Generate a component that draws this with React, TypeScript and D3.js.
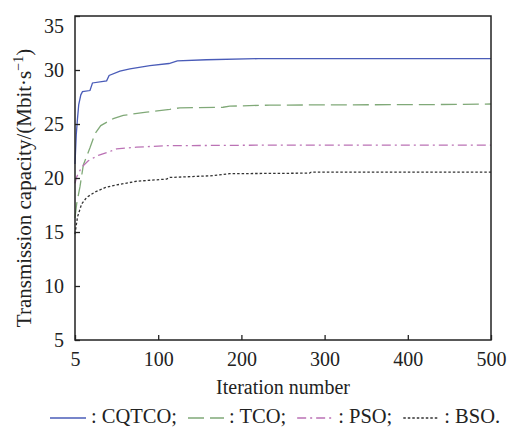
import React, { useRef, useEffect } from "react";
import * as d3 from "d3";

// iteration index (axis runs 0..500, first tick is labelled "5")
const cqtcoIter = [0, 1.5, 3, 4.5, 7, 9, 18, 21, 38, 41, 54, 66, 90, 113, 123, 158, 220, 500];
const cqtcoVal = [21.3, 24.0, 25.5, 26.8, 27.7, 28.0, 28.1, 28.8, 29.0, 29.5, 29.9, 30.1, 30.4, 30.6, 30.85, 30.95, 31.05, 31.05];

const tcoIter = [0, 2, 6, 10, 18, 24, 31, 46, 58, 86, 114, 126, 178, 186, 234, 430, 500];
const tcoVal = [16.3, 17.6, 19.2, 21.2, 22.8, 24.1, 24.85, 25.5, 25.8, 26.1, 26.35, 26.5, 26.55, 26.65, 26.75, 26.8, 26.85];

const psoIter = [0, 2, 8, 16, 28, 40, 50, 74, 110, 134, 246, 500];
const psoVal = [19.5, 20.1, 21.0, 21.6, 22.1, 22.4, 22.7, 22.85, 23.0, 23.0, 23.05, 23.05];

const bsoIter = [0, 3, 8, 14, 24, 36, 46, 74, 110, 114, 162, 186, 282, 284, 500];
const bsoVal = [14.8, 16.4, 17.6, 18.2, 18.7, 19.1, 19.3, 19.7, 19.9, 20.05, 20.2, 20.4, 20.45, 20.55, 20.55];

const seriesNames = ["CQTCO", "TCO", "PSO", "BSO"];
const xTicks = [0, 100, 200, 300, 400, 500];
const xTickLabels = ["5", "100", "200", "300", "400", "500"];
const yTicks = [5, 10, 15, 20, 25, 30, 35];

const font = "Liberation Serif, Tinos, DejaVu Serif, serif";

const styles = [
  { color: "#4a5cb8", dash: null },
  { color: "#80a978", dash: "16,6" },
  { color: "#bb72b5", dash: "9,4,2,4" },
  { color: "#333333", dash: "2.5,2" }
];

export default function App() {
  const ref = useRef<SVGSVGElement>(null);

  useEffect(() => {
    document.body.style.margin = "0";
    const width = 522, height = 430;
    const margin = { top: 16, right: 31, bottom: 90, left: 75 };

    const svg = d3.select(ref.current);
    svg.selectAll("*").remove();
    svg.attr("width", width).attr("height", height).attr("font-family", font);

    const x = d3.scaleLinear().domain([0, 500]).range([margin.left, width - margin.right]);
    const y = d3.scaleLinear().domain([5, 35]).range([height - margin.bottom, margin.top]);

    const series = [
      cqtcoIter.map((it, i) => [it, cqtcoVal[i]]),
      tcoIter.map((it, i) => [it, tcoVal[i]]),
      psoIter.map((it, i) => [it, psoVal[i]]),
      bsoIter.map((it, i) => [it, bsoVal[i]])
    ];

    const line = d3.line<number[]>().x(d => x(d[0])).y(d => y(d[1]));

    // curves
    series.forEach((s, i) => {
      svg.append("path")
        .datum(s)
        .attr("d", line)
        .attr("fill", "none")
        .attr("stroke", styles[i].color)
        .attr("stroke-width", 1.3)
        .attr("stroke-dasharray", styles[i].dash);
    });

    // frame
    svg.append("rect")
      .attr("x", x(0))
      .attr("y", y(35))
      .attr("width", x(500) - x(0))
      .attr("height", y(5) - y(35))
      .attr("fill", "none")
      .attr("stroke", "#222")
      .attr("stroke-width", 1.5);

    // bottom axis, ticks inward
    svg.append("g")
      .attr("transform", `translate(0,${y(5)})`)
      .call(d3.axisBottom(x).tickValues(xTicks).tickSize(-5).tickPadding(12)
        .tickFormat((d, i) => xTickLabels[i]))
      .attr("font-family", font)
      .call(g => g.select(".domain").remove())
      .call(g => g.selectAll("line").attr("stroke", "#222").attr("stroke-width", 1.3))
      .call(g => g.selectAll("text")
        .attr("font-size", 20).attr("fill", "#222"));

    // left axis, ticks inward
    svg.append("g")
      .attr("transform", `translate(${x(0)},0)`)
      .call(d3.axisLeft(y).tickValues(yTicks).tickSize(-5).tickPadding(11))
      .attr("font-family", font)
      .call(g => g.select(".domain").remove())
      .call(g => g.selectAll("line").attr("stroke", "#222").attr("stroke-width", 1.3))
      .call(g => g.selectAll("text")
        .attr("font-size", 20).attr("fill", "#222")
        .attr("dy", (d: any) => (d === 35 ? "0.8em" : "0.34em")));

    // axis titles
    svg.append("text")
      .attr("x", (x(0) + x(500)) / 2)
      .attr("y", 394)
      .attr("text-anchor", "middle")
      .attr("font-size", 20)
      .attr("fill", "#222")
      .text("Iteration number");

    const yl = svg.append("text")
      .attr("transform", "translate(31,188) rotate(-90)")
      .attr("text-anchor", "middle")
      .attr("font-size", 21)
      .attr("fill", "#222");
    yl.append("tspan").text("Transmission capacity/(Mbit\u00b7s");
    yl.append("tspan").attr("dy", -8).attr("font-size", 14).text("\u22121");
    yl.append("tspan").attr("dy", 8).text(")");

    // legend, laid out left to right
    const legend = svg.append("g").attr("transform", "translate(50,423)");
    let cx = 0;
    seriesNames.forEach((name, i) => {
      legend.append("line")
        .attr("x1", cx).attr("x2", cx + 36)
        .attr("y1", -5).attr("y2", -5)
        .attr("stroke", styles[i].color)
        .attr("stroke-width", 1.5)
        .attr("stroke-dasharray", styles[i].dash);
      const t = legend.append("text")
        .attr("x", cx + 41)
        .attr("font-size", 20.5)
        .attr("fill", "#222")
        .text(`: ${name}${i === seriesNames.length - 1 ? "." : ";"}`);
      const w = (t.node() as SVGTextElement).getComputedTextLength();
      cx += 41 + w + 11;
    });
  }, []);

  return <svg ref={ref} style={{ display: "block" }}></svg>;
}
